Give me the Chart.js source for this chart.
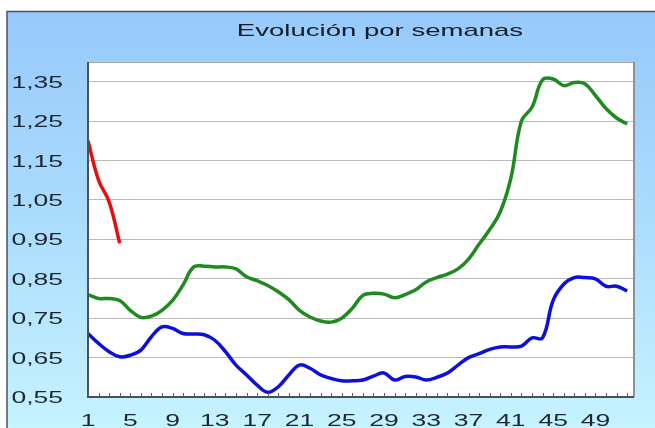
<!DOCTYPE html>
<html>
<head>
<meta charset="utf-8">
<script src="https://cdn.jsdelivr.net/npm/chart.js@4/dist/chart.umd.min.js"></script>
<style>
  html, body { margin: 0; padding: 0; background: #ffffff; }
  canvas { display: block; }
</style>
</head>
<body>
<canvas id="chart" width="655" height="428" style="width:655px;height:428px"></canvas>
<script>
// Weekly index values (week 1 .. 52)
const weeks = [
  1, 2, 3, 4, 5, 6, 7, 8, 9, 10, 11, 12, 13, 14, 15, 16, 17, 18, 19, 20,
  21, 22, 23, 24, 25, 26, 27, 28, 29, 30, 31, 32, 33, 34, 35, 36, 37, 38, 39, 40,
  41, 42, 43, 44, 45, 46, 47, 48, 49, 50, 51, 52
];

// Current year (only the first weeks available)
const seriesRed = [1.20, 1.10, 1.045, 0.94];

const seriesGreen = [
  0.81, 0.80, 0.80, 0.795, 0.77, 0.752, 0.755, 0.77, 0.795, 0.835,
  0.88, 0.882, 0.88, 0.88, 0.875, 0.855, 0.845, 0.833, 0.817, 0.797,
  0.77, 0.753, 0.743, 0.74, 0.75, 0.775, 0.808, 0.813, 0.811, 0.802,
  0.81, 0.822, 0.842, 0.853, 0.862, 0.875, 0.90, 0.938, 0.975, 1.02,
  1.105, 1.25, 1.285, 1.355, 1.357, 1.34, 1.348, 1.345, 1.315, 1.282,
  1.258, 1.243
];

const seriesBlue = [
  0.711, 0.686, 0.665, 0.652, 0.656, 0.669, 0.703, 0.728, 0.724, 0.711,
  0.71, 0.708, 0.694, 0.665, 0.631, 0.606, 0.58, 0.562, 0.576, 0.606,
  0.631, 0.623, 0.606, 0.597, 0.591, 0.591, 0.593, 0.603, 0.611, 0.593,
  0.602, 0.601, 0.593, 0.60, 0.611, 0.631, 0.65, 0.66, 0.671, 0.677,
  0.677, 0.679, 0.70, 0.70, 0.795, 0.836, 0.853, 0.853, 0.85, 0.831,
  0.831, 0.819
];

const yTickValues = [0.55, 0.65, 0.75, 0.85, 0.95, 1.05, 1.15, 1.25, 1.35];
const xTickValues = [1, 5, 9, 13, 17, 21, 25, 29, 33, 37, 41, 45, 49];
const titleText = 'Evolución por semanas';

const toPoints = (vals) => vals.map((v, i) => ({ x: weeks[i], y: v }));
const fmtComma = (v) => v.toFixed(2).replace('.', ',');

const LABEL_FONT = '17px "Liberation Sans", Arial, Helvetica, sans-serif';
const TEXT_COLOR = '#1c2733';
const STRETCH = 1.56;

function wideText(ctx, text, x, y, align, sx) {
  ctx.save();
  ctx.translate(x, y);
  ctx.scale(sx, 1);
  ctx.textAlign = align;
  ctx.textBaseline = 'alphabetic';
  ctx.fillText(text, 0, 0);
  ctx.restore();
}

const framePlugin = {
  id: 'frame',
  beforeDraw(chart) {
    const { ctx, width, height, chartArea: a } = chart;
    ctx.save();
    ctx.fillStyle = '#ffffff';
    ctx.fillRect(0, 0, width, height);
    const g = ctx.createLinearGradient(0, 11, 0, height);
    g.addColorStop(0, '#97c9fb');
    g.addColorStop(0.5, '#abdcfd');
    g.addColorStop(1, '#c6f3ff');
    ctx.fillStyle = g;
    ctx.fillRect(7, 11, width - 7, height - 11);
    ctx.strokeStyle = '#4a5360';
    ctx.lineWidth = 1.5;
    ctx.beginPath();
    ctx.moveTo(7, height);
    ctx.lineTo(7, 11.5);
    ctx.lineTo(width, 11.5);
    ctx.stroke();
    ctx.fillStyle = '#ffffff';
    ctx.fillRect(a.left, a.top, a.right - a.left, a.bottom - a.top);
    ctx.restore();
  },
  afterDraw(chart) {
    const { ctx, chartArea: a, scales } = chart;
    const xs = scales.x, ys = scales.y;
    ctx.save();
    // top and right frame of the plot
    ctx.strokeStyle = '#a4a8ae';
    ctx.lineWidth = 1;
    ctx.beginPath();
    ctx.moveTo(a.left, a.top + 0.5);
    ctx.lineTo(a.right, a.top + 0.5);
    ctx.stroke();
    ctx.strokeStyle = '#8c9299';
    ctx.lineWidth = 2;
    ctx.beginPath();
    ctx.moveTo(a.right, a.top);
    ctx.lineTo(a.right, a.bottom);
    ctx.stroke();
    // axes
    ctx.strokeStyle = '#4d4f55';
    ctx.lineWidth = 2;
    ctx.beginPath();
    ctx.moveTo(a.left, a.top);
    ctx.lineTo(a.left, a.bottom);
    ctx.lineTo(a.right, a.bottom);
    ctx.stroke();
    // weekly tick marks on the category axis
    ctx.lineWidth = 1;
    ctx.strokeStyle = '#5a5c62';
    ctx.beginPath();
    weeks.forEach(w => {
      const x = Math.round(xs.getPixelForValue(w)) + 0.5;
      ctx.moveTo(x, a.bottom);
      ctx.lineTo(x, a.bottom - 4);
    });
    ctx.stroke();
    // tick labels
    ctx.fillStyle = TEXT_COLOR;
    ctx.font = LABEL_FONT;
    yTickValues.forEach(v => {
      wideText(ctx, fmtComma(v), 63, ys.getPixelForValue(v) + 6, 'right', STRETCH);
    });
    xTickValues.forEach(w => {
      wideText(ctx, String(w), xs.getPixelForValue(w), 426, 'center', STRETCH);
    });
    // title
    ctx.fillStyle = '#161c26';
    ctx.font = '17px "Liberation Sans", Arial, Helvetica, sans-serif';
    wideText(ctx, titleText, 380, 35.5, 'center', 1.62);
    ctx.restore();
  }
};

new Chart(document.getElementById('chart'), {
  type: 'line',
  data: {
    datasets: [
      { label: 'Serie verde', data: toPoints(seriesGreen), borderColor: '#1f8a1f', borderWidth: 3.5, tension: 0.4, pointRadius: 0 },
      { label: 'Serie azul', data: toPoints(seriesBlue), borderColor: '#0c10da', borderWidth: 3.5, tension: 0.4, pointRadius: 0 },
      { label: 'Serie roja', data: toPoints(seriesRed), borderColor: '#e60f0f', borderWidth: 3.5, tension: 0.4, pointRadius: 0 }
    ]
  },
  options: {
    responsive: false,
    animation: false,
    devicePixelRatio: 1,
    events: [],
    layout: { padding: { left: 88, top: 62, right: 21, bottom: 31 } },
    plugins: { legend: { display: false }, title: { display: false }, tooltip: { enabled: false } },
    scales: {
      x: {
        type: 'linear',
        min: 1,
        max: 52.65,
        afterFit: (s) => { s.height = 0; },
        ticks: { display: false },
        grid: { display: false },
        border: { display: false }
      },
      y: {
        min: 0.55,
        max: 1.40,
        afterFit: (s) => { s.width = 0; },
        afterBuildTicks: (s) => { s.ticks = yTickValues.map(v => ({ value: v })); },
        ticks: { display: false },
        grid: { color: '#b9b9b9', lineWidth: 1, drawTicks: false },
        border: { display: false }
      }
    }
  },
  plugins: [framePlugin]
});
</script>
</body>
</html>
